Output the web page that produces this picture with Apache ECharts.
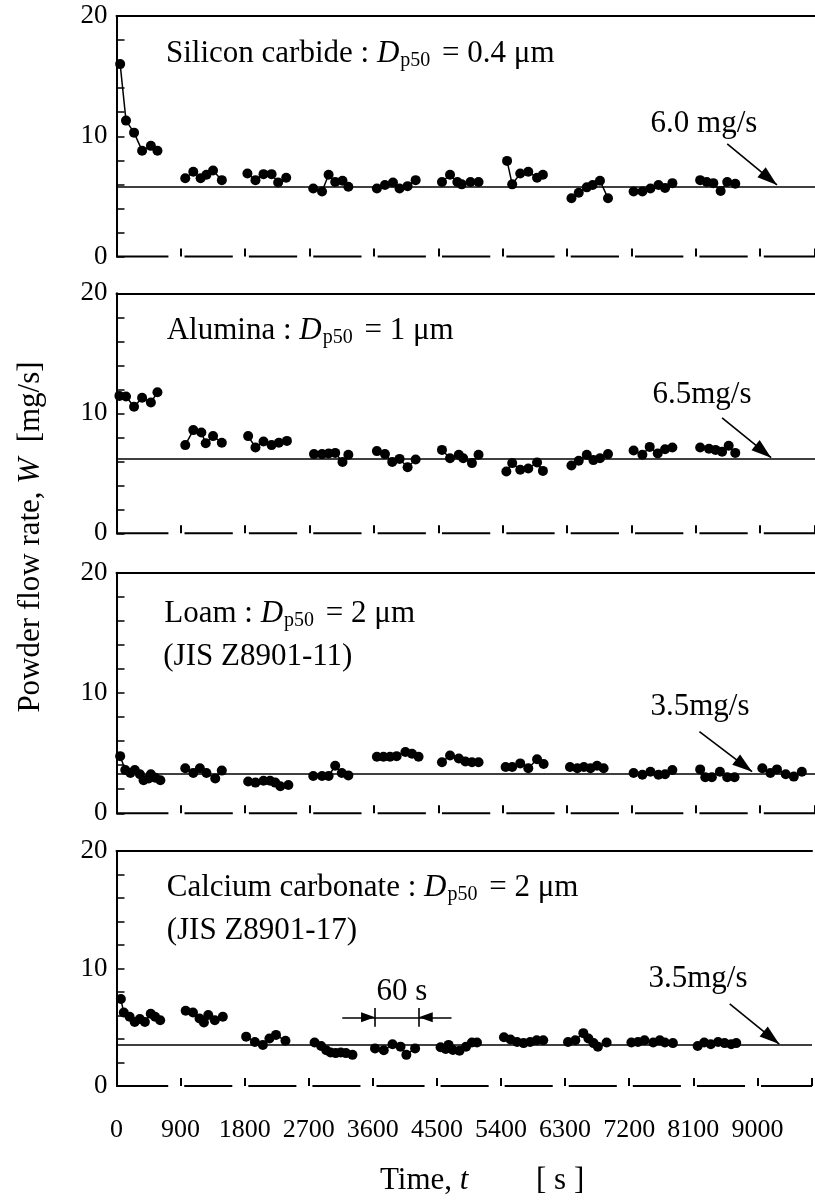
<!DOCTYPE html>
<html>
<head>
<meta charset="utf-8">
<script src="https://cdn.jsdelivr.net/npm/echarts@6/dist/echarts.min.js"></script>
<style>html,body{margin:0;padding:0;background:#fff}#c{width:815px;height:1202px}</style>
</head>
<body>
<div id="c"></div>
<script>
// ---- data (time in s, powder flow rate W in mg/s) ----
const timeTicks = [0, 900, 1800, 2700, 3600, 4500, 5400, 6300, 7200, 8100, 9000];

const sicTime = [5,13,24,35,47,56, 906,917,927,935,944,956, 1803,1814,1825,1836,1845,1856, 2705,2717,2726,2735,2745,2753, 3604,3615,3626,3635,3646,3657, 4505,4516,4526,4532,4544,4555, 5406,5413,5424,5435,5447,5455, 6306,6316,6327,6335,6345,6356, 7203,7215,7226,7237,7246,7256, 8106,8115,8124,8134,8143,8154];
const sicW = [16.0,11.3,10.3,8.8,9.2,8.8, 6.5,7.05,6.5,6.8,7.15,6.35, 6.9,6.35,6.85,6.85,6.15,6.55, 5.65,5.4,6.8,6.2,6.3,5.8, 5.65,5.95,6.15,5.65,5.85,6.35, 6.2,6.8,6.2,6.0,6.2,6.2, 7.95,6.0,6.9,7.05,6.55,6.8, 4.85,5.3,5.75,5.95,6.3,4.85, 5.4,5.4,5.65,5.95,5.7,6.1, 6.35,6.2,6.1,5.45,6.2,6.05];

const alTime = [4,13,24,35,47,56, 906,917,928,934,944,956, 1804,1814,1825,1836,1846,1857, 2706,2717,2726,2735,2745,2753, 3604,3615,3625,3635,3646,3657, 4505,4516,4528,4534,4546,4555, 5405,5413,5424,5435,5447,5455, 6306,6316,6327,6336,6345,6356, 7203,7215,7225,7236,7246,7256, 8106,8118,8127,8136,8145,8154];
const alW = [11.45,11.4,10.55,11.3,10.9,11.75, 7.35,8.6,8.4,7.5,8.1,7.55, 8.1,7.15,7.65,7.35,7.55,7.7, 6.6,6.6,6.65,6.7,5.95,6.55, 6.85,6.6,5.95,6.2,5.5,6.15, 6.95,6.25,6.55,6.25,5.85,6.55, 5.15,5.85,5.3,5.4,5.9,5.2, 5.65,6.05,6.55,6.1,6.25,6.6, 6.9,6.55,7.2,6.65,7.0,7.15, 7.15,7.05,6.95,6.8,7.3,6.7];

const loTime = [5,12,19,25,32,37,44,47,53,60, 906,917,926,935,947,956, 1804,1814,1825,1834,1841,1848,1859, 2705,2717,2726,2735,2744,2753, 3604,3613,3622,3631,3643,3652,3661, 4505,4516,4528,4537,4546,4555, 5404,5413,5424,5435,5447,5456, 6304,6314,6323,6332,6341,6350, 7203,7215,7226,7237,7246,7256, 8106,8113,8122,8133,8143,8153, 9003,9014,9023,9035,9046,9057];
const loW = [4.75,3.6,3.35,3.6,3.25,2.75,2.9,3.25,2.95,2.75, 3.75,3.35,3.75,3.35,2.9,3.55, 2.65,2.55,2.7,2.7,2.55,2.25,2.35, 3.1,3.1,3.1,3.95,3.35,3.15, 4.7,4.7,4.7,4.75,5.1,4.95,4.7, 4.25,4.8,4.55,4.3,4.25,4.25, 3.85,3.85,4.15,3.75,4.5,4.1, 3.85,3.75,3.85,3.75,3.95,3.75, 3.35,3.2,3.45,3.2,3.25,3.6, 3.65,3.0,3.0,3.45,3.0,3.0, 3.75,3.35,3.65,3.25,3.05,3.45];

const caTime = [6,10,18,25,32,39,47,53,60, 907,917,926,932,938,947,958, 1802,1814,1825,1834,1843,1856, 2708,2717,2724,2730,2737,2744,2751,2760, 3603,3615,3627,3638,3646,3658, 4505,4512,4516,4522,4531,4540,4548,4555, 5404,5413,5422,5431,5440,5449,5458, 6304,6314,6325,6332,6339,6345,6357, 7203,7212,7221,7233,7242,7249,7260, 8106,8115,8124,8134,8143,8152,8159];
const caW = [7.4,6.25,5.9,5.45,5.7,5.45,6.15,5.9,5.6, 6.4,6.25,5.75,5.4,6.05,5.6,5.9, 4.2,3.75,3.5,4.05,4.35,3.85, 3.7,3.4,3.05,2.85,2.8,2.85,2.8,2.65, 3.2,3.05,3.55,3.35,2.65,3.2, 3.3,3.15,3.5,3.06,3.0,3.35,3.7,3.7, 4.15,3.95,3.75,3.65,3.75,3.9,3.9, 3.75,3.9,4.5,4.05,3.65,3.35,3.7, 3.7,3.75,3.9,3.7,3.9,3.7,3.65, 3.4,3.7,3.55,3.75,3.65,3.55,3.65];

// nominal flow-rate reference lines (as drawn)
const refLevels = [5.8, 6.25, 3.27, 3.47];
const refLabels = ['6.0 mg/s', '6.5mg/s', '3.5mg/s', '3.5mg/s'];

// ---- layout ----
const FONT = '"Liberation Serif", "Times New Roman", serif';
const GROUP = 900;      // real seconds between measurement windows
const SPAN = 88;        // compressed axis units per window (broken axis)
const AXMAX = 955;
const panels = [
  {time: sicTime, W: sicW, top: 16, h: 240.5},
  {time: alTime, W: alW, top: 293.3, h: 240},
  {time: loTime, W: loW, top: 572.7, h: 240.6},
  {time: caTime, W: caW, top: 851, h: 235}
];
const arrows = [ // [tailX, tailY, tipX, tipY] in axis units
  [835, 9.36, 903, 5.95],
  [828, 9.61, 895, 6.3],
  [797, 6.78, 869, 3.46],
  [842, 6.98, 910, 3.57]
];
const labelPos = [[704,124],[702,395],[700,707],[698,979]];

function toX(t) { const k = Math.floor(t / GROUP); return k * SPAN + (t - k * GROUP); }

const grid = [], xAxis = [], yAxis = [], series = [];
panels.forEach((p, i) => {
  grid.push({left: 116.5, right: 0, top: p.top, height: p.h});
  xAxis.push({
    type: 'value', gridIndex: i, min: 0, max: AXMAX, interval: SPAN,
    axisLine: {show: false}, splitLine: {show: false},
    axisTick: {show: true, inside: true, length: 8, lineStyle: {color: '#000', width: 2}},
    axisLabel: {show: i === 3, margin: 31, color: '#000', fontFamily: FONT, fontSize: 26,
      formatter: v => (Math.abs(v % SPAN) < 1e-6 ? String(timeTicks[Math.round(v / SPAN)]) : '')}
  });
  xAxis.push({
    type: 'value', gridIndex: i, position: 'top', min: 0, max: AXMAX,
    axisLine: {show: true, onZero: false, lineStyle: {color: '#000', width: 2}},
    axisTick: {show: false}, axisLabel: {show: false}, splitLine: {show: false}
  });
  yAxis.push({
    type: 'value', gridIndex: i, min: 0, max: 20, interval: 2,
    axisLine: {show: true, lineStyle: {color: '#000', width: 2}},
    axisTick: {show: true, inside: true, length: 8, lineStyle: {color: '#000', width: 1.5}},
    splitLine: {show: false},
    axisLabel: {margin: 9, color: '#000', fontFamily: FONT, fontSize: 27,
      formatter: v => (v % 10 === 0 ? String(v) : '')}
  });
  // broken bottom axis segments
  timeTicks.forEach((t, k) => {
    const a = k === 0 ? 0 : k * SPAN + 5;
    const b = k === timeTicks.length - 1 ? AXMAX : k * SPAN + 71;
    series.push({type: 'line', xAxisIndex: 2 * i, yAxisIndex: i, data: [[a, 0], [b, 0]],
      symbol: 'none', clip: false, silent: true, z: 2,
      lineStyle: {color: '#000', width: 2}});
  });
  // data groups
  const groups = {};
  p.time.forEach((t, j) => {
    const k = Math.floor(t / GROUP);
    (groups[k] = groups[k] || []).push([toX(t), p.W[j]]);
  });
  Object.keys(groups).forEach((k, gi) => {
    const s = {
      type: 'line', xAxisIndex: 2 * i, yAxisIndex: i, data: groups[k],
      symbol: 'circle', symbolSize: 10, clip: false, z: 4,
      itemStyle: {color: '#000'}, lineStyle: {color: '#000', width: 1.5}
    };
    if (gi === 0) {
      const ar = arrows[i];
      const md = [
        {yAxis: refLevels[i], symbol: 'none'},
        [{coord: [ar[0], ar[1]], symbol: 'none'},
         {coord: [ar[2], ar[3]], symbol: 'triangle', symbolSize: [13, 20], symbolOffset: [0, 10]}]
      ];
      if (i === 3) {
        const y = 5.85, x1 = toX(3603), x2 = toX(3663);
        md.push(
          [{coord: [x1 - 45, y], symbol: 'none'}, {coord: [x1, y], symbol: 'triangle', symbolSize: [10, 14], symbolOffset: [0, 7]}],
          [{coord: [x2 + 45, y], symbol: 'none'}, {coord: [x2, y], symbol: 'triangle', symbolSize: [10, 14], symbolOffset: [0, 7]}],
          [{coord: [x1, y], symbol: 'none'}, {coord: [x2, y], symbol: 'none'}],
          [{coord: [x1, 5.05], symbol: 'none'}, {coord: [x1, 6.64], symbol: 'none'}],
          [{coord: [x2, 5.05], symbol: 'none'}, {coord: [x2, 6.64], symbol: 'none'}]
        );
      }
      s.markLine = {
        silent: true, animation: false, symbol: ['none', 'none'],
        label: {show: false},
        lineStyle: {color: '#000', width: 1.6, type: 'solid'},
        emphasis: {disabled: true},
        data: md
      };
    }
    series.push(s);
  });
});

const subRich = {
  i: {fontFamily: FONT, fontSize: 31, fontStyle: 'italic', lineHeight: 33},
  sub: {fontFamily: FONT, fontSize: 20, lineHeight: 18, verticalAlign: 'bottom', padding: [0, 4, 0, 1]}
};
function txt(x, y, text, opts) {
  return Object.assign({type: 'text', x: x, y: y, silent: true,
    style: Object.assign({text: text, fill: '#000', font: '31px ' + FONT, lineHeight: 33,
      align: 'left', verticalAlign: 'middle', rich: subRich}, opts || {})});
}
const graphic = [
  txt(166, 54, 'Silicon carbide : {i|D}{sub|p50} = 0.4 μm'),
  txt(166.7, 331, 'Alumina : {i|D}{sub|p50} = 1 μm'),
  txt(164.3, 614, 'Loam : {i|D}{sub|p50} = 2 μm'),
  txt(163.3, 657, '(JIS Z8901-11)'),
  txt(166.7, 888, 'Calcium carbonate : {i|D}{sub|p50} = 2 μm'),
  txt(166.7, 931, '(JIS Z8901-17)'),
  txt(402, 992, '60 s', {align: 'center'}),
  txt(380, 1181, 'Time, {i|t}'),
  txt(536, 1181, '[ s ]'),
  Object.assign(txt(31, 537, 'Powder flow rate, {i|W}  [mg/s]', {align: 'center'}), {rotation: Math.PI / 2})
];
refLabels.forEach((t, i) => graphic.push(txt(labelPos[i][0], labelPos[i][1], t, {align: 'center'})));

const chart = echarts.init(document.getElementById('c'), null, {renderer: 'canvas'});
chart.setOption({
  animation: false,
  backgroundColor: '#fff',
  grid: grid, xAxis: xAxis, yAxis: yAxis, series: series, graphic: graphic
});
</script>
</body>
</html>
